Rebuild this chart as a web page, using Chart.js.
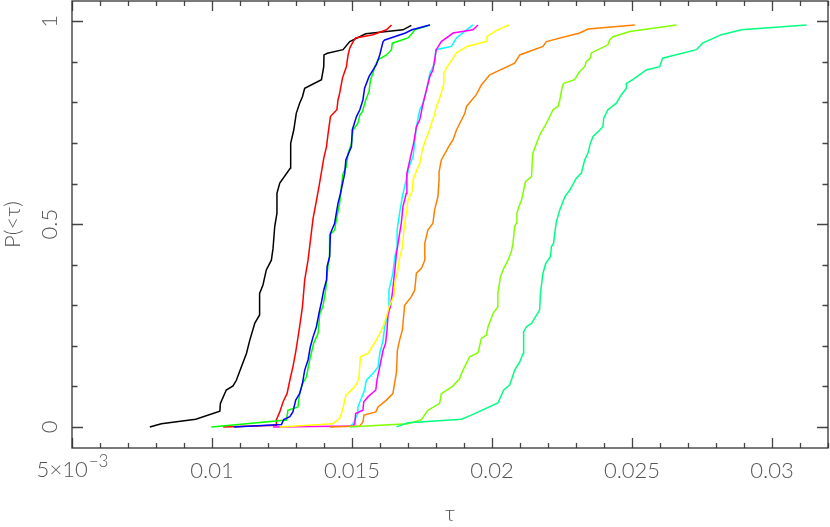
<!DOCTYPE html>
<html>
<head>
<meta charset="utf-8">
<title>P(&lt;τ)</title>
<script src="https://cdn.jsdelivr.net/npm/chart.js@4.4.1/dist/chart.umd.min.js"></script>
<style>
  html, body { margin: 0; padding: 0; background: #fff; }
  #wrap { width: 830px; height: 527px; }
</style>
</head>
<body>
<div id="wrap"><canvas id="cdf" width="830" height="527"></canvas></div>
<script>
/* ── axes ── */
const xTicks = [0.005, 0.01, 0.015, 0.02, 0.025, 0.03];
const xTickLabels = ['5×10', '0.01', '0.015', '0.02', '0.025', '0.03'];
const xFirstExp = '−3';   // superscript on the first x label
const yTicks = [0, 0.5, 1];
const yTickLabels = ['0', '0.5', '1'];

/* ── cumulative curves ── */
const tauBlack = [0.00778,0.00819,0.00942,0.01028,0.0103,0.01051,0.01075,0.01087,0.01106,0.01123,0.01135,0.01153,0.0117,0.0117,0.01182,0.01194,0.01212,0.01218,0.01224,0.01232,0.01232,0.01242,0.0128,0.01281,0.01292,0.01301,0.01313,0.01323,0.01331,0.01391,0.01399,0.0140,0.01412,0.01468,0.01492,0.01549,0.01682,0.01712];
const pBlack   = [0,0.008,0.019,0.039,0.058,0.091,0.101,0.115,0.150,0.181,0.214,0.256,0.276,0.329,0.350,0.387,0.411,0.440,0.494,0.527,0.576,0.601,0.638,0.699,0.732,0.773,0.798,0.814,0.835,0.856,0.888,0.917,0.921,0.930,0.950,0.969,0.979,0.990];

const tauRed = [0.0104,0.0123,0.0123,0.01242,0.01254,0.01268,0.01278,0.01289,0.01299,0.01313,0.01323,0.01331,0.01343,0.01351,0.01361,0.0137,0.01381,0.01391,0.01399,0.01409,0.01414,0.01423,0.01446,0.0145,0.01456,0.01466,0.01474,0.0148,0.01486,0.01492,0.01504,0.01513,0.01575,0.01623,0.01641];
const pRed   = [0,0.004,0.018,0.037,0.062,0.082,0.115,0.148,0.185,0.247,0.296,0.362,0.411,0.457,0.514,0.547,0.588,0.629,0.662,0.691,0.720,0.765,0.782,0.806,0.823,0.860,0.876,0.888,0.917,0.934,0.950,0.959,0.967,0.979,0.991];

const tauGreen = [0.00998,0.01266,0.01271,0.01307,0.01313,0.01323,0.01337,0.01349,0.01363,0.01379,0.01385,0.01396,0.01406,0.01414,0.0142,0.0142,0.01438,0.01446,0.01456,0.01462,0.01468,0.0148,0.01486,0.01498,0.01504,0.01521,0.01528,0.01537,0.01549,0.01561,0.01566,0.01575,0.01581,0.01593,0.01623,0.01641,0.01644,0.017,0.01716,0.01724,0.01778];
const pGreen   = [0,0.017,0.041,0.049,0.082,0.107,0.123,0.165,0.206,0.231,0.280,0.296,0.337,0.395,0.420,0.473,0.485,0.518,0.551,0.592,0.625,0.642,0.675,0.699,0.732,0.749,0.769,0.777,0.806,0.827,0.856,0.872,0.888,0.905,0.917,0.930,0.946,0.959,0.971,0.979,0.991];

const tauBlue = [0.01078,0.01248,0.01256,0.01278,0.01289,0.01299,0.01313,0.01323,0.01331,0.01343,0.01351,0.01361,0.01373,0.01382,0.01391,0.01399,0.01409,0.01411,0.0142,0.01423,0.01438,0.01444,0.0145,0.01459,0.01474,0.01478,0.01498,0.01501,0.01516,0.01528,0.01539,0.01545,0.01561,0.01587,0.01599,0.01611,0.01617,0.01691,0.01714,0.01778];
const pBlue   = [0,0.006,0.018,0.025,0.037,0.066,0.082,0.107,0.140,0.165,0.197,0.222,0.247,0.280,0.308,0.337,0.362,0.395,0.420,0.477,0.502,0.527,0.551,0.576,0.625,0.658,0.691,0.732,0.765,0.782,0.806,0.835,0.864,0.893,0.917,0.950,0.954,0.971,0.979,0.991];

const tauCyan = [0.01492,0.01504,0.01521,0.01521,0.01545,0.01551,0.01575,0.01593,0.01599,0.01611,0.01617,0.01629,0.01632,0.01646,0.01653,0.01661,0.01661,0.0167,0.0168,0.01688,0.01704,0.01718,0.0173,0.01742,0.01754,0.01766,0.01778,0.01796,0.01799,0.01855,0.01873,0.01909,0.01932];
const pCyan   = [0,0.008,0.033,0.049,0.091,0.115,0.132,0.148,0.181,0.214,0.247,0.280,0.337,0.379,0.420,0.444,0.485,0.527,0.568,0.592,0.642,0.666,0.740,0.782,0.798,0.831,0.872,0.897,0.930,0.938,0.959,0.979,0.991];

const tauMagenta = [0.01218,0.01504,0.0151,0.01513,0.01539,0.01542,0.01557,0.01585,0.01589,0.01599,0.01611,0.0162,0.01625,0.01629,0.01637,0.01644,0.01653,0.01659,0.0167,0.01676,0.01682,0.01694,0.01696,0.01712,0.0172,0.0173,0.01742,0.01754,0.01763,0.01778,0.01789,0.01801,0.01819,0.01861,0.01932,0.0195];
const pMagenta   = [0,0.002,0.008,0.033,0.041,0.062,0.074,0.091,0.115,0.148,0.189,0.206,0.239,0.280,0.296,0.329,0.387,0.428,0.477,0.502,0.543,0.576,0.625,0.675,0.699,0.740,0.757,0.798,0.823,0.864,0.880,0.930,0.950,0.971,0.979,0.991];

const tauYellow = [0.01242,0.01432,0.01456,0.01466,0.01478,0.01504,0.01518,0.01525,0.0153,0.01557,0.01587,0.01611,0.01623,0.01632,0.01649,0.01653,0.01664,0.0167,0.0168,0.01688,0.01694,0.017,0.01716,0.01718,0.01732,0.01742,0.01751,0.01763,0.01775,0.01784,0.01795,0.01801,0.01811,0.01819,0.01828,0.01828,0.01837,0.01849,0.01873,0.01911,0.0198,0.01982,0.0201,0.02061];
const pYellow   = [0,0.008,0.021,0.041,0.078,0.095,0.107,0.123,0.173,0.181,0.214,0.247,0.271,0.296,0.321,0.354,0.387,0.416,0.444,0.502,0.527,0.559,0.584,0.609,0.634,0.650,0.683,0.708,0.728,0.749,0.769,0.790,0.806,0.823,0.847,0.872,0.885,0.897,0.922,0.938,0.950,0.962,0.975,0.991];

const tauOrange = [0.0142,0.01528,0.01539,0.01543,0.01585,0.01593,0.01623,0.01646,0.01653,0.01659,0.01662,0.0167,0.0168,0.01688,0.01712,0.01724,0.0173,0.01748,0.0176,0.0176,0.01771,0.01789,0.01795,0.01807,0.01811,0.01811,0.01819,0.01849,0.01861,0.01873,0.01903,0.01909,0.01944,0.01962,0.01992,0.02081,0.02099,0.02182,0.02194,0.02313,0.02343,0.0251];
const pOrange   = [0,0.002,0.012,0.029,0.037,0.049,0.066,0.082,0.111,0.136,0.189,0.214,0.239,0.300,0.321,0.337,0.379,0.391,0.411,0.453,0.485,0.502,0.535,0.568,0.609,0.629,0.658,0.695,0.708,0.732,0.773,0.790,0.819,0.843,0.868,0.897,0.917,0.938,0.950,0.971,0.981,0.991];

const tauLime = [0.01492,0.01599,0.017,0.01748,0.01771,0.01813,0.01819,0.01859,0.01885,0.01891,0.0192,0.0195,0.01962,0.0198,0.01986,0.02004,0.02021,0.02021,0.0203,0.02042,0.02057,0.02069,0.02075,0.02081,0.02087,0.02089,0.02096,0.02105,0.0212,0.02141,0.02146,0.02159,0.02173,0.02188,0.02218,0.02236,0.02242,0.02251,0.02256,0.02295,0.02313,0.02331,0.02337,0.02351,0.02355,0.02414,0.0242,0.02432,0.02492,0.02659];
const pLime   = [0,0.004,0.008,0.018,0.041,0.058,0.082,0.100,0.119,0.132,0.173,0.183,0.218,0.226,0.247,0.280,0.296,0.329,0.370,0.391,0.411,0.432,0.453,0.494,0.502,0.527,0.543,0.559,0.605,0.617,0.675,0.699,0.724,0.740,0.782,0.790,0.806,0.839,0.847,0.856,0.876,0.888,0.901,0.909,0.922,0.942,0.954,0.962,0.975,0.991];

const tauSpring = [0.01659,0.017,0.01891,0.01926,0.02021,0.02042,0.02063,0.02073,0.02081,0.02099,0.02111,0.02113,0.02123,0.02141,0.0217,0.02173,0.02182,0.02192,0.02209,0.02212,0.0222,0.02224,0.0223,0.02242,0.0226,0.02278,0.02301,0.02319,0.02331,0.02343,0.02351,0.02361,0.02385,0.02396,0.02399,0.02414,0.02444,0.02462,0.0248,0.0248,0.02504,0.02551,0.02599,0.02609,0.0273,0.02752,0.02819,0.02891,0.03123];
const pSpring   = [0,0.010,0.019,0.029,0.059,0.091,0.103,0.123,0.140,0.160,0.181,0.234,0.247,0.255,0.288,0.329,0.379,0.403,0.420,0.444,0.453,0.477,0.506,0.535,0.567,0.584,0.613,0.625,0.658,0.675,0.699,0.716,0.732,0.740,0.761,0.782,0.798,0.819,0.835,0.847,0.857,0.880,0.888,0.909,0.930,0.946,0.967,0.979,0.991];

// pgplot colour order, last one ends up on top
const curves = [
  ['black',   tauBlack,   pBlack,   '#000000'],
  ['red',     tauRed,     pRed,     '#ff0000'],
  ['green',   tauGreen,   pGreen,   '#00ff00'],
  ['blue',    tauBlue,    pBlue,    '#0000ff'],
  ['cyan',    tauCyan,    pCyan,    '#00ffff'],
  ['magenta', tauMagenta, pMagenta, '#ff00ff'],
  ['yellow',  tauYellow,  pYellow,  '#ffff00'],
  ['orange',  tauOrange,  pOrange,  '#ff8000'],
  ['lime',    tauLime,    pLime,    '#80ff00'],
  ['spring',  tauSpring,  pSpring,  '#00ff80']
];

const FONT = { family: 'Lato, "DejaVu Sans", sans-serif', size: 22, weight: 300 };
const INK = '#555';
const css = f => f.weight + ' ' + f.size + 'px ' + f.family;

// frame with inward ticks on all four sides, rotated y labels, 5x10^-3 label
const frameTicks = {
  id: 'frameTicks',
  afterDraw(chart) {
    const { ctx, chartArea: a, scales: { x, y } } = chart;
    ctx.save();
    ctx.strokeStyle = '#444';
    ctx.lineWidth = 1.3;
    ctx.beginPath();
    for (let k = 5; k <= 32; k++) {
      const px = Math.round(x.getPixelForValue(k / 1000)) + 0.5;
      const len = k % 5 === 0 ? 10 : 5;
      ctx.moveTo(px, a.bottom); ctx.lineTo(px, a.bottom - len);
      ctx.moveTo(px, a.top); ctx.lineTo(px, a.top + len);
    }
    for (let k = 0; k <= 10; k++) {
      const py = Math.round(y.getPixelForValue(k / 10)) + 0.5;
      const len = k % 5 === 0 ? 11 : 5.5;
      ctx.moveTo(a.left, py); ctx.lineTo(a.left + len, py);
      ctx.moveTo(a.right, py); ctx.lineTo(a.right - len, py);
    }
    ctx.stroke();
    ctx.strokeStyle = '#333';
    ctx.strokeRect(a.left, a.top, a.right - a.left, a.bottom - a.top);

    ctx.fillStyle = INK;
    ctx.font = css(FONT);
    ctx.textAlign = 'center';
    ctx.textBaseline = 'alphabetic';
    yTicks.forEach((v, i) => {
      ctx.save();
      ctx.translate(a.left - 15, y.getPixelForValue(v));
      ctx.rotate(-Math.PI / 2);
      ctx.fillText(yTickLabels[i], 0, 0);
      ctx.restore();
    });

    // first x label: mantissa + raised exponent, centred on its tick
    const supFont = { ...FONT, size: 17 };
    ctx.textAlign = 'left';
    const wBase = ctx.measureText(xTickLabels[0]).width;
    ctx.font = css(supFont);
    const wExp = ctx.measureText(xFirstExp).width;
    const x0 = x.getPixelForValue(xTicks[0]) - (wBase + wExp) / 2;
    ctx.font = css(FONT);
    ctx.fillText(xTickLabels[0], x0, 477);
    ctx.font = css(supFont);
    ctx.fillText(xFirstExp, x0 + wBase + 1, 467);
    ctx.restore();
  }
};

new Chart(document.getElementById('cdf'), {
  type: 'scatter',
  data: {
    datasets: curves.map(([name, tau, p, col], i) => ({
      label: name,
      data: tau.map((t, j) => ({ x: t, y: p[j] })),
      showLine: true,
      borderColor: col,
      backgroundColor: col,
      borderWidth: 1.5,
      pointRadius: 0,
      tension: 0,
      order: curves.length - i
    }))
  },
  options: {
    responsive: false,
    animation: false,
    layout: { padding: { top: 1, right: 2, left: 0, bottom: 0 } },
    plugins: { legend: { display: false }, tooltip: { enabled: false } },
    scales: {
      x: {
        type: 'linear',
        min: 0.005, max: 0.032,
        afterBuildTicks: s => { s.ticks = xTicks.map(v => ({ value: v })); },
        afterFit: s => { s.height = 79; },
        grid: { display: false, drawTicks: false },
        border: { display: false },
        ticks: { callback: (v, i) => (i === 0 ? '' : xTickLabels[i]), autoSkip: false, maxRotation: 0, padding: 10, color: INK, font: FONT },
        title: { display: true, text: 'τ', color: INK, font: FONT, padding: { top: 0, bottom: 0 } }
      },
      y: {
        type: 'linear',
        min: -0.052, max: 1.05,
        afterFit: s => { s.width = 72; },
        grid: { display: false, drawTicks: false },
        border: { display: false },
        ticks: { display: false },
        title: { display: true, text: 'P(<τ)', color: INK, font: FONT, padding: { top: 0, bottom: 0 } }
      }
    }
  },
  plugins: [frameTicks]
});
</script>
</body>
</html>
